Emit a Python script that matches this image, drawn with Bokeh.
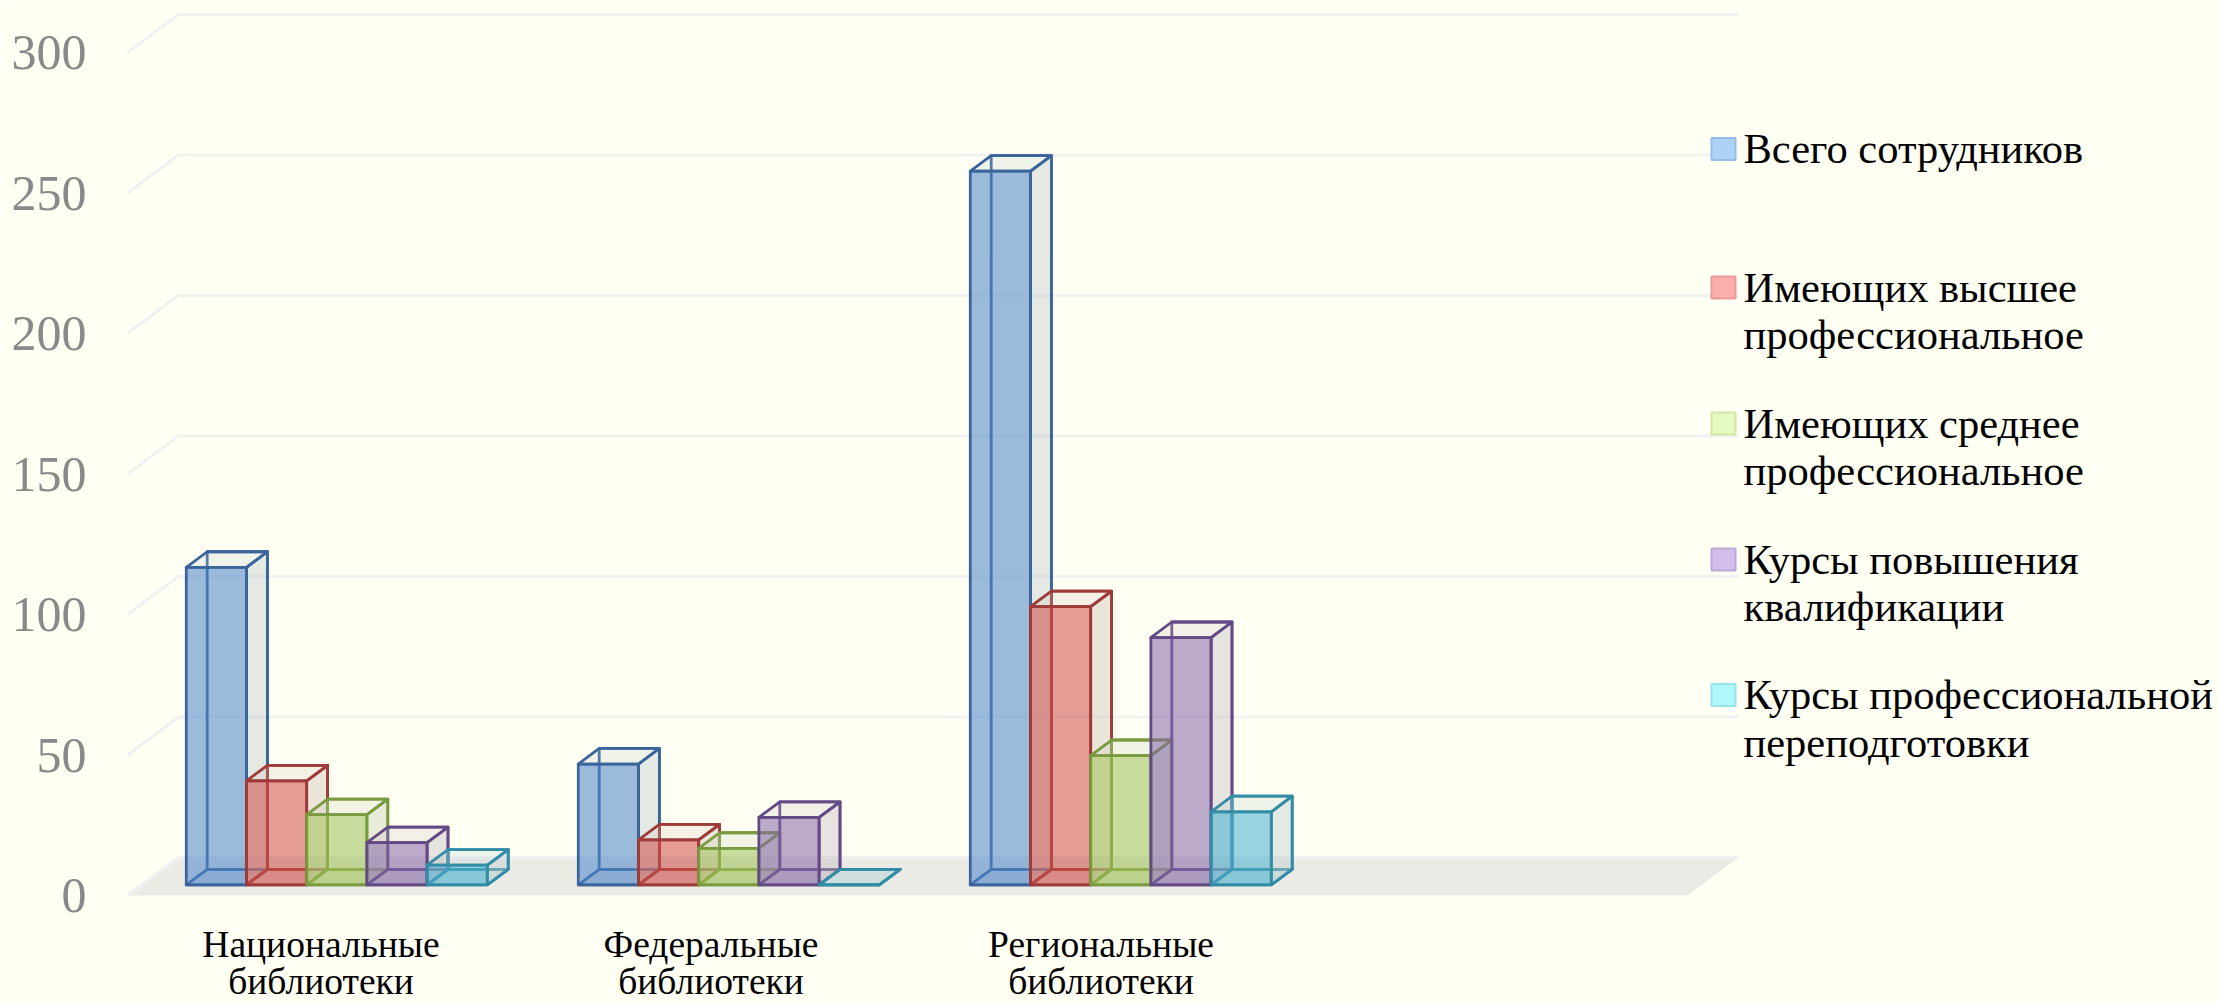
from bokeh.plotting import figure
from bokeh.models import Range1d, FixedTicker
from bokeh.core.properties import value
from bokeh.embed import file_html
from bokeh.resources import INLINE

categories = [["Национальные", "библиотеки"], ["Федеральные", "библиотеки"], ["Региональные", "библиотеки"]]
series_names = [["Всего сотрудников"], ["Имеющих высшее", "профессиональное"], ["Имеющих среднее", "профессиональное"],
                ["Курсы повышения", "квалификации"], ["Курсы профессиональной", "переподготовки"]]
total = [113, 43, 254]
higher = [37, 16, 99]
secondary = [25, 13, 46]
advanced = [15, 24, 88]
retrain = [7, 0, 26]
y_ticks = [0, 50, 100, 150, 200, 250, 300]

series = [total, higher, secondary, advanced, retrain]
fills = ["#4F85C8", "#CE4E49", "#9DC156", "#8568A8", "#49B0CE"]
edges = ["#3A659B", "#9E3A38", "#7A9A3F", "#634A85", "#338CA5"]
swatches = ["#AED2F6", "#FBAFAD", "#E5FAC0", "#D3BFEB", "#AFF7FA"]
swatch_edges = ["#94BCE6", "#E89A98", "#CFE6A6", "#BDA8D8", "#97E3E8"]
sides = ["#BCC9CC", "#D0BDB5", "#C3CCAE", "#C2B9BE", "#B8CBCB"]
BG = "#FFFFF3"

W, H = 2218, 1002
LEFT = 100            # x of the frame's left edge
ZERO_Y = 895          # y of value 0 on the front of the floor
PX_PER_UNIT = 2.81
SLOT = 390            # px per category slot
FLOOR_X = 127         # x of the floor's front-left corner
DEPTH_DX = 51 / SLOT
DEPTH_DY = 38 / PX_PER_UNIT
BAR_W = 60.2 / SLOT
GROUP_STEP = 392 / SLOT
D0, D1 = 0.28, 0.69

def px_x(x):
    return (x - FLOOR_X) / SLOT

def px_y(y):
    return (ZERO_Y - y) / PX_PER_UNIT

p = figure(width=W, height=H, output_backend="svg", toolbar_location=None,
           x_range=Range1d(px_x(LEFT), px_x(W)),
           y_range=Range1d(px_y(H), px_y(0)),
           min_border_left=LEFT, min_border_right=0, min_border_top=0, min_border_bottom=0,
           background_fill_color=BG, border_fill_color=BG, outline_line_color=None, x_axis_location=None)
p.grid.visible = False
ax = p.yaxis[0]
ax.ticker = FixedTicker(ticks=y_ticks)
ax.axis_line_color = None
ax.major_tick_line_color = None
ax.minor_tick_line_color = None
ax.major_tick_in = 0
ax.major_tick_out = 0
ax.major_label_standoff = 14
ax.major_label_text_font = "Liberation Serif"
ax.major_label_text_font_size = "50px"
ax.major_label_text_color = "#898989"

n_slots = 4
# floor
p.patch([0, n_slots, n_slots + DEPTH_DX, DEPTH_DX], [0, 0, DEPTH_DY, DEPTH_DY],
        fill_color="#EBEBE6", line_color=None)
# walls
for t in y_ticks:
    p.line([0, DEPTH_DX, n_slots + DEPTH_DX], [t, t + DEPTH_DY, t + DEPTH_DY],
           line_color="#F1F1F2", line_width=3)

def pt(x, v, d):
    return x + d * DEPTH_DX, v + d * DEPTH_DY

def face(points, fill, alpha, edge):
    xs, ys = zip(*points)
    p.patch(list(xs), list(ys), fill_color=fill, fill_alpha=alpha,
            line_color=edge, line_width=2.8, line_join="round")

for g in range(len(categories)):
    for s, vals in enumerate(series):
        v = vals[g]
        x0 = 0.5 + g * GROUP_STEP - 2.5 * BAR_W + s * BAR_W
        x1 = x0 + BAR_W
        c, e, sd = fills[s], edges[s], sides[s]
        # bottom and back faces
        face([pt(x0, 0, D0), pt(x1, 0, D0), pt(x1, 0, D1), pt(x0, 0, D1)], c, 0.12, e)
        face([pt(x0, 0, D1), pt(x1, 0, D1), pt(x1, v, D1), pt(x0, v, D1)], c, 0.0, e)
        # right and top faces
        face([pt(x1, 0, D0), pt(x1, 0, D1), pt(x1, v, D1), pt(x1, v, D0)], sd, 0.4, e)
        face([pt(x0, v, D0), pt(x1, v, D0), pt(x1, v, D1), pt(x0, v, D1)], sd, 0.22, e)
        # front
        face([pt(x0, 0, D0), pt(x1, 0, D0), pt(x1, v, D0), pt(x0, v, D0)], c, 0.56, e)

# category labels
serif = value("Liberation Serif")
label_y = [943.5, 980.5]
for g, lines in enumerate(categories):
    for i, line in enumerate(lines):
        p.text([g + 0.5 - 1.5 / SLOT], [px_y(label_y[i])], text=[line], text_font=serif, text_font_size="37.5px",
               text_align="center", text_baseline="middle", text_color="#000000")

# legend
legend_y = [148.5, 287, 423, 559, 694.5]
for s, lines in enumerate(series_names):
    y = legend_y[s]
    p.quad(left=[px_x(1711)], right=[px_x(1735)], top=[px_y(y - 11)], bottom=[px_y(y + 11)],
           fill_color=swatches[s], line_color=swatch_edges[s], line_width=2)
    for i, line in enumerate(lines):
        p.text([px_x(1743)], [px_y(y - 0.5 + 47.5 * i)], text=[line], text_font=serif, text_font_size="42.5px",
               text_align="left", text_baseline="middle", text_color="#000000")

open("out.html", "w").write(file_html(p, INLINE))
